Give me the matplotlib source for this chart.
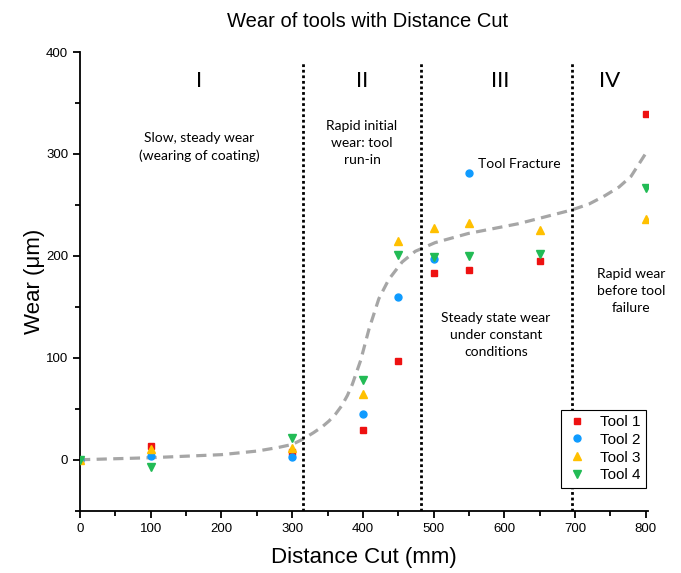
import matplotlib.pyplot as plt
import numpy as np

# datos
distance = [0, 100, 300, 400, 450, 500, 550, 650, 800]
tool1 = [0, 13, 8, 29, 97, 183, 186, 195, 339]
tool2_x = [0, 100, 300, 400, 450, 500, 550]
tool2 = [0, 4, 3, 45, 160, 197, 281]
tool3 = [0, 10.5, 12, 64.5, 215, 227, 232.6, 225, 236.5]
tool4 = [0, -7, 21, 78.6, 201, 199, 199.5, 202, 267]

# curva de tendencia (leida punto a punto)
trend_x = [0, 100, 200, 250, 280, 300, 314.5, 330, 342.7, 352, 361.5, 370, 378, 385,
           396.7, 408.5, 422.5, 436.6, 455.4, 474, 502, 549, 620, 695, 720, 742, 762, 779, 803]
trend_y = [0, 2, 5, 8.5, 12, 15, 20, 26.5, 32.5, 38, 45, 53, 63, 74,
           97.3, 128, 158, 177, 194, 204.5, 213, 222, 231.6, 245, 251, 259, 267.5, 278, 304]

region_bounds = [315, 482, 695]
region_labels = ["I", "II", "III", "IV"]
region_label_x = [169, 398.6, 594, 749]

fig = plt.figure(figsize=(6.81, 5.73), dpi=100)
ax = fig.add_axes([0.1175, 0.1087, 0.834, 0.8005])

ax.plot(trend_x, trend_y, color='#a6a6a6', lw=2.3, dashes=(3.2, 2.0),
        solid_joinstyle='round', dash_joinstyle='round', zorder=1)

for xb in region_bounds:
    ax.axvline(xb, ymin=0, ymax=0.978, color='black', lw=2.0, ls=(0, (1, 1)), zorder=2)

ms = 4.5
ax.plot(distance, tool1, 's', color='#ee1111', ms=ms, label='Tool 1', zorder=3)
ax.plot(tool2_x, tool2, 'o', color='#0f9bff', ms=ms + 0.5, label='Tool 2', zorder=3)
ax.plot(distance, tool3, '^', color='#ffc000', ms=ms + 0.8, label='Tool 3', zorder=3)
ax.plot(distance, tool4, 'v', color='#22bb55', ms=ms + 0.8, label='Tool 4', zorder=3)

for lab, xl in zip(region_labels, region_label_x):
    ax.text(xl, 371.5, lab, ha='center', va='center', fontsize=16, family='Lato')

note_kw = dict(ha='center', va='center', fontsize=10, family='Lato', linespacing=1.5)
ax.text(169, 306.6, "Slow, steady wear\n(wearing of coating)", **note_kw)
ax.text(398.6, 310.6, "Rapid initial\nwear: tool\nrun-in", **note_kw)
ax.text(588, 121.9, "Steady state wear\nunder constant\nconditions", **note_kw)
ax.text(779, 166, "Rapid wear\nbefore tool\nfailure", **note_kw)
ax.text(563, 290.6, "Tool Fracture", ha='left', va='center', fontsize=10, family='Lato')

ax.set_xlim(0, 803)
ax.set_ylim(-50, 400)
ax.set_xticks(np.arange(0, 801, 100))
ax.set_xticks(np.arange(50, 801, 100), minor=True)
ax.set_yticks(np.arange(0, 401, 100))
ax.set_yticks([-50, 50, 150, 250, 350], minor=True)

for s in ['top', 'right']:
    ax.spines[s].set_visible(False)
for s in ['left', 'bottom']:
    ax.spines[s].set_linewidth(1.3)
ax.tick_params(which='major', direction='out', length=5, width=1.3, labelsize=9.5)
ax.tick_params(which='minor', direction='out', length=3.5, width=1.3)
for t in ax.get_xticklabels() + ax.get_yticklabels():
    t.set_family('Liberation Sans')

ax.set_xlabel("Distance Cut (mm)", fontsize=16, family='Liberation Sans', labelpad=9)
ax.set_ylabel("Wear (μm)", fontsize=16, family='Liberation Sans', labelpad=1)
fig.text(0.54, 0.962, "Wear of tools with Distance Cut", ha='center', va='center',
         fontsize=14.5, family='Liberation Sans')

leg = ax.legend(loc='lower right', bbox_to_anchor=(1.005, 0.04), frameon=True, fancybox=False,
                edgecolor='black', framealpha=1, prop={'family': 'Liberation Sans', 'size': 11},
                handletextpad=0.9, borderpad=0.35, labelspacing=0.25, handlelength=1.3,
                borderaxespad=0.3)
leg.get_frame().set_linewidth(0.8)

fig.savefig('out.png', dpi=100)
